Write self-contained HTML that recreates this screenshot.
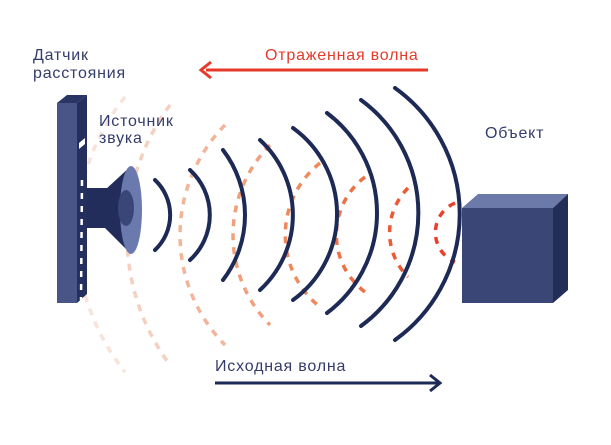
<!DOCTYPE html>
<html><head><meta charset="utf-8"><style>
html,body{margin:0;padding:0;background:#fff}
svg{display:block}
text{font-family:"Liberation Sans",sans-serif;letter-spacing:0.8px}
</style></head><body>
<svg width="611" height="445" viewBox="0 0 611 445" xmlns="http://www.w3.org/2000/svg">
<g fill="none" stroke-width="3.5" stroke-dasharray="7 7">
<path d="M125,97 A220,220 0 0 0 125,372" stroke="#f8e3da"/>
<path d="M170,105 A218,218 0 0 0 170,365" stroke="#f5d0c0"/>
<path d="M225,125 A157,157 0 0 0 225,345" stroke="#f2b59a"/>
<path d="M270,145 A128,128 0 0 0 270,325" stroke="#f0a07c"/>
<path d="M320,163 A92,92 0 0 0 320,307" stroke="#ef8a5e"/>
<path d="M365,177 A72,72 0 0 0 365,292" stroke="#ee7045"/>
<path d="M408,188 A63,63 0 0 0 408,277" stroke="#ec5a35"/>
<path d="M455,203 A32,32 0 0 0 455,262" stroke="#e8402c"/>
</g>
<g fill="none" stroke="#1e2a56" stroke-width="4" stroke-linecap="round">
<path d="M155,180 A48,48 0 0 1 155,250"/>
<path d="M190,170 A61,61 0 0 1 190,260"/>
<path d="M223,150 A107,107 0 0 1 223,280"/>
<path d="M260,140 A102,102 0 0 1 260,290"/>
<path d="M293,128 A106,106 0 0 1 293,300"/>
<path d="M327,113 A125,125 0 0 1 327,313"/>
<path d="M361,100 A140,140 0 0 1 361,326"/>
<path d="M395,88 A155,155 0 0 1 395,340"/>
</g>
<polygon points="57,103 67,95 87,95 77,103" fill="#2a3566"/>
<rect x="57" y="103" width="20" height="200" fill="#4a5587"/>
<polygon points="77,103 87,95 87,294 77,303" fill="#242f5e"/>
<polygon points="79,143 85,138 85,144 79,149" fill="#fff"/>
<path d="M82,180 L81,300" stroke="#fff" stroke-width="2.5" stroke-dasharray="6 7" fill="none"/>
<rect x="87" y="188" width="22" height="40" fill="#222d5c"/>
<polygon points="105,190 131,166 131,254 105,228" fill="#222d5c"/>
<ellipse cx="131" cy="210" rx="11" ry="44" fill="#6b7aae"/>
<ellipse cx="126" cy="208" rx="8" ry="18" fill="#3a4678"/>
<polygon points="462,208 478,194 568,194 553,208" fill="#6b7aa8"/>
<rect x="462" y="208" width="91" height="95" fill="#3a4675"/>
<polygon points="553,208 568,194 568,290 553,303" fill="#222d58"/>
<line x1="206" y1="70" x2="428" y2="70" stroke="#e53a2a" stroke-width="3"/>
<polyline points="211,62 201,70 211,78" fill="none" stroke="#e53a2a" stroke-width="3"/>
<line x1="215" y1="383" x2="438" y2="383" stroke="#1e2a56" stroke-width="3"/>
<polyline points="430,375 440,383 430,391" fill="none" stroke="#1e2a56" stroke-width="3"/>
<g font-size="16" fill="#333c6a">
<text x="33" y="60">Датчик</text>
<text x="33" y="78">расстояния</text>
<text x="99" y="126">Источник</text>
<text x="99" y="143">звука</text>
<text x="485" y="138">Объект</text>
<text x="215" y="371">Исходная волна</text>
</g>
<text x="265" y="60" font-size="16" fill="#e53a2a">Отраженная волна</text>
</svg>
</body></html>
